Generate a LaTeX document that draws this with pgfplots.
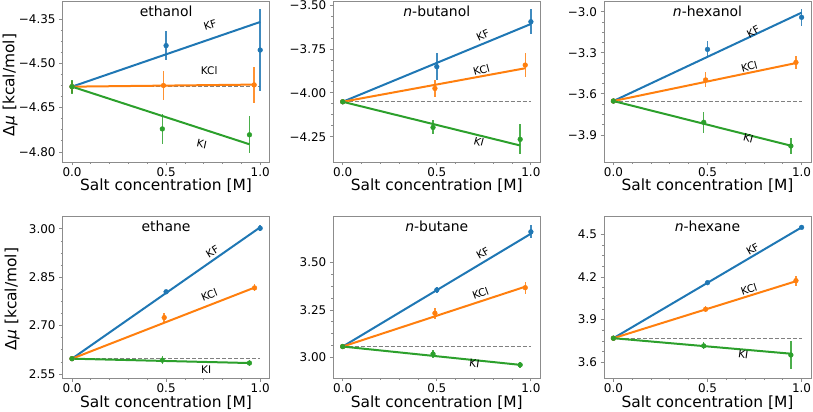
\documentclass[border=0pt]{standalone}
\usepackage{fontspec}
\setmainfont{DejaVu Sans}
\usepackage{pgfplots}
\pgfplotsset{compat=1.18}
\definecolor{cF}{HTML}{1F77B4}
\definecolor{cC}{HTML}{FF7F0E}
\definecolor{cI}{HTML}{2CA02C}
\definecolor{spine}{HTML}{8C8C8C}
\newcommand{\tickfont}{\fontsize{12}{14}\selectfont}
\newcommand{\labfont}{\fontsize{15.5}{18}\selectfont}
\newcommand{\titfont}{\fontsize{14}{16}\selectfont}
\newcommand{\sfont}{\fontsize{10.5}{12}\selectfont}
\pgfplotsset{
  panel/.style={scale only axis, width=207bp, anchor=south west,
    xmin=-0.05, xmax=1.05, xtick={0,0.5,1}, xticklabels={0.0,0.5,1.0},
    minor x tick num=4, minor y tick num=3,
    axis line style={draw=spine}, tick style={draw=spine, line width=0.8bp},
    tick align=outside, xtick pos=left, ytick pos=left,
    major tick length=3.5bp, minor tick length=2bp,
    ticklabel style={font=\tickfont},
    xticklabel style={inner sep=1.5bp},
    clip=false},
  toprow/.style={height=161bp},
  botrow/.style={height=162bp},
  pts/.style={only marks, mark=*, mark size=2.4bp, color=#1, mark options={draw=#1, fill=#1},
    error bars/.cd, y dir=both, y explicit, error mark=none,
    error bar style={line width=1.5bp, #1, opacity=0.85}},
  fit/.style={no marks, line width=2bp, color=#1},
  ref/.style={no marks, line width=1bp, color=gray, dash pattern=on 4bp off 2bp},
}
\begin{document}
\begin{tikzpicture}
\path[use as bounding box] (0bp,0bp) rectangle (813bp,412bp);
% ---------- ethanol ----------
\begin{axis}[panel, toprow, at={(62.6bp,250bp)}, ymin=-4.834, ymax=-4.289,
  ytick={-4.80,-4.65,-4.50,-4.35}, yticklabels={−4.80,−4.65,−4.50,−4.35}]
\addplot[ref] coordinates {(0,-4.579) (1.0,-4.579)};
\addplot[pts=cF] coordinates {(0,-4.579) +- (0,0.02) (0.5,-4.44) +- (0,0.05) (1.0,-4.455) +- (0,0.14)};
\addplot[fit=cF] coordinates {(0,-4.579) (1.0,-4.36)};
\addplot[pts=cC] coordinates {(0,-4.579) +- (0,0.02) (0.486,-4.575) +- (0,0.05) (0.968,-4.573) +- (0,0.06)};
\addplot[fit=cC] coordinates {(0,-4.579) (0.968,-4.572)};
\addplot[pts=cI] coordinates {(0,-4.579) +- (0,0.024) (0.48,-4.722) +- (0,0.05) (0.943,-4.742) +- (0,0.063)};
\addplot[fit=cI] coordinates {(0,-4.579) (0.943,-4.774)};
\node[font=\titfont, yshift=-10.5bp] at (rel axis cs:0.5,1) {ethanol};
\node[font=\sfont, rotate=17] at (axis cs:0.734,-4.37) {KF};
\node[font=\sfont] at (axis cs:0.729,-4.525) {KCl};
\node[font=\sfont, rotate=-12] at (axis cs:0.69,-4.773) {KI};
\end{axis}
% ---------- n-butanol ----------
\begin{axis}[panel, toprow, at={(333.3bp,250bp)}, ymin=-4.394, ymax=-3.477,
  ytick={-4.25,-4.00,-3.75,-3.50}, yticklabels={−4.25,−4.00,−3.75,−3.50}]
\addplot[ref] coordinates {(0,-4.051) (1.0,-4.051)};
\addplot[pts=cF] coordinates {(0,-4.051) +- (0,0.01) (0.5,-3.851) +- (0,0.076) (1.0,-3.595) +- (0,0.07)};
\addplot[fit=cF] coordinates {(0,-4.051) (1.0,-3.608)};
\addplot[pts=cC] coordinates {(0,-4.051) +- (0,0.01) (0.49,-3.975) +- (0,0.05) (0.97,-3.842) +- (0,0.07)};
\addplot[fit=cC] coordinates {(0,-4.051) (0.97,-3.86)};
\addplot[pts=cI] coordinates {(0,-4.051) +- (0,0.012) (0.48,-4.197) +- (0,0.04) (0.943,-4.265) +- (0,0.085)};
\addplot[fit=cI] coordinates {(0,-4.051) (0.943,-4.30)};
\node[font=\titfont, yshift=-10.5bp] at (rel axis cs:0.5,1) {\textit{n}-butanol};
\node[font=\sfont, rotate=25] at (axis cs:0.745,-3.671) {KF};
\node[font=\sfont, rotate=15] at (axis cs:0.737,-3.870) {KCl};
\node[font=\sfont, rotate=-15] at (axis cs:0.724,-4.278) {KI};
\end{axis}
% ---------- n-hexanol ----------
\begin{axis}[panel, toprow, at={(604bp,250bp)}, ymin=-4.097, ymax=-2.922,
  ytick={-3.9,-3.6,-3.3,-3.0}, yticklabels={−3.9,−3.6,−3.3,−3.0}]
\addplot[ref] coordinates {(0,-3.652) (1.0,-3.652)};
\addplot[pts=cF] coordinates {(0,-3.652) +- (0,0.01) (0.5,-3.275) +- (0,0.06) (1.0,-3.041) +- (0,0.06)};
\addplot[fit=cF] coordinates {(0,-3.652) (1.0,-3.007)};
\addplot[pts=cC] coordinates {(0,-3.652) +- (0,0.01) (0.49,-3.498) +- (0,0.055) (0.97,-3.37) +- (0,0.045)};
\addplot[fit=cC] coordinates {(0,-3.652) (0.97,-3.375)};
\addplot[pts=cI] coordinates {(0,-3.652) +- (0,0.02) (0.48,-3.807) +- (0,0.075) (0.943,-3.98) +- (0,0.06)};
\addplot[fit=cI] coordinates {(0,-3.652) (0.943,-3.978)};
\node[font=\titfont, yshift=-10.5bp] at (rel axis cs:0.5,1) {\textit{n}-hexanol};
\node[font=\sfont, rotate=28] at (axis cs:0.743,-3.146) {KF};
\node[font=\sfont, rotate=15] at (axis cs:0.722,-3.401) {KCl};
\node[font=\sfont, rotate=-15] at (axis cs:0.717,-3.924) {KI};
\end{axis}
% ---------- ethane ----------
\begin{axis}[panel, botrow, at={(62.6bp,34bp)}, ymin=2.5376, ymax=3.040,
  ytick={2.55,2.70,2.85,3.00}, yticklabels={2.55,2.70,2.85,3.00}]
\addplot[ref] coordinates {(0,2.5975) (1.0,2.5975)};
\addplot[pts=cF] coordinates {(0,2.5975) +- (0,0.004) (0.5,2.805) +- (0,0.006) (1.0,3.002) +- (0,0.01)};
\addplot[fit=cF] coordinates {(0,2.5975) (1.0,3.005)};
\addplot[pts=cC] coordinates {(0,2.5975) +- (0,0.004) (0.49,2.725) +- (0,0.013) (0.97,2.817) +- (0,0.011)};
\addplot[fit=cC] coordinates {(0,2.5975) (0.97,2.818)};
\addplot[pts=cI] coordinates {(0,2.5975) +- (0,0.004) (0.48,2.593) +- (0,0.012) (0.943,2.584) +- (0,0.01)};
\addplot[fit=cI] coordinates {(0,2.5975) (0.943,2.584)};
\node[font=\titfont, yshift=-10.5bp] at (rel axis cs:0.5,1) {ethane};
\node[font=\sfont, rotate=32] at (axis cs:0.746,2.930) {KF};
\node[font=\sfont, rotate=22] at (axis cs:0.729,2.795) {KCl};
\node[font=\sfont] at (axis cs:0.713,2.562) {KI};
\end{axis}
% ---------- n-butane ----------
\begin{axis}[panel, botrow, at={(333.3bp,34bp)}, ymin=2.893, ymax=3.743,
  ytick={3.00,3.25,3.50}, yticklabels={3.00,3.25,3.50}]
\addplot[ref] coordinates {(0,3.058) (1.0,3.058)};
\addplot[pts=cF] coordinates {(0,3.058) +- (0,0.008) (0.5,3.355) +- (0,0.015) (1.0,3.66) +- (0,0.035)};
\addplot[fit=cF] coordinates {(0,3.058) (1.0,3.65)};
\addplot[pts=cC] coordinates {(0,3.058) +- (0,0.008) (0.49,3.233) +- (0,0.028) (0.97,3.367) +- (0,0.032)};
\addplot[fit=cC] coordinates {(0,3.058) (0.97,3.372)};
\addplot[pts=cI] coordinates {(0,3.058) +- (0,0.01) (0.48,3.019) +- (0,0.022) (0.943,2.962) +- (0,0.015)};
\addplot[fit=cI] coordinates {(0,3.058) (0.943,2.962)};
\node[font=\titfont, yshift=-10.5bp] at (rel axis cs:0.5,1) {\textit{n}-butane};
\node[font=\sfont, rotate=30] at (axis cs:0.745,3.547) {KF};
\node[font=\sfont, rotate=20] at (axis cs:0.732,3.337) {KCl};
\node[font=\sfont, rotate=-8] at (axis cs:0.70,2.967) {KI};
\end{axis}
% ---------- n-hexane ----------
\begin{axis}[panel, botrow, at={(604bp,34bp)}, ymin=3.489, ymax=4.629,
  ytick={3.6,3.9,4.2,4.5}, yticklabels={3.6,3.9,4.2,4.5}]
\addplot[ref] coordinates {(0,3.769) (1.0,3.769)};
\addplot[pts=cF] coordinates {(0,3.769) +- (0,0.01) (0.5,4.16) +- (0,0.015) (1.0,4.549) +- (0,0.015)};
\addplot[fit=cF] coordinates {(0,3.769) (1.0,4.549)};
\addplot[pts=cC] coordinates {(0,3.769) +- (0,0.01) (0.49,3.973) +- (0,0.02) (0.97,4.174) +- (0,0.035)};
\addplot[fit=cC] coordinates {(0,3.769) (0.97,4.170)};
\addplot[pts=cI] coordinates {(0,3.769) +- (0,0.012) (0.48,3.715) +- (0,0.025) (0.943,3.651) +- (0,0.097)};
\addplot[fit=cI] coordinates {(0,3.769) (0.943,3.66)};
\node[font=\titfont, yshift=-10.5bp] at (rel axis cs:0.5,1) {\textit{n}-hexane};
\node[font=\sfont, rotate=30] at (axis cs:0.74,4.395) {KF};
\node[font=\sfont, rotate=18] at (axis cs:0.72,4.113) {KCl};
\node[font=\sfont, rotate=-8] at (axis cs:0.69,3.658) {KI};
\end{axis}
% ---------- axis labels ----------
\node[font=\labfont] at (166bp,226bp) {Salt concentration [M]};
\node[font=\labfont] at (436.8bp,226bp) {Salt concentration [M]};
\node[font=\labfont] at (707.5bp,226bp) {Salt concentration [M]};
\node[font=\labfont] at (166bp,9bp) {Salt concentration [M]};
\node[font=\labfont] at (436.8bp,9bp) {Salt concentration [M]};
\node[font=\labfont] at (707.5bp,9bp) {Salt concentration [M]};
\node[font=\labfont, rotate=90] at (10bp,327bp) {Δ\textit{μ} [kcal/mol]};
\node[font=\labfont, rotate=90] at (12bp,113bp) {Δ\textit{μ} [kcal/mol]};
\end{tikzpicture}
\end{document}
